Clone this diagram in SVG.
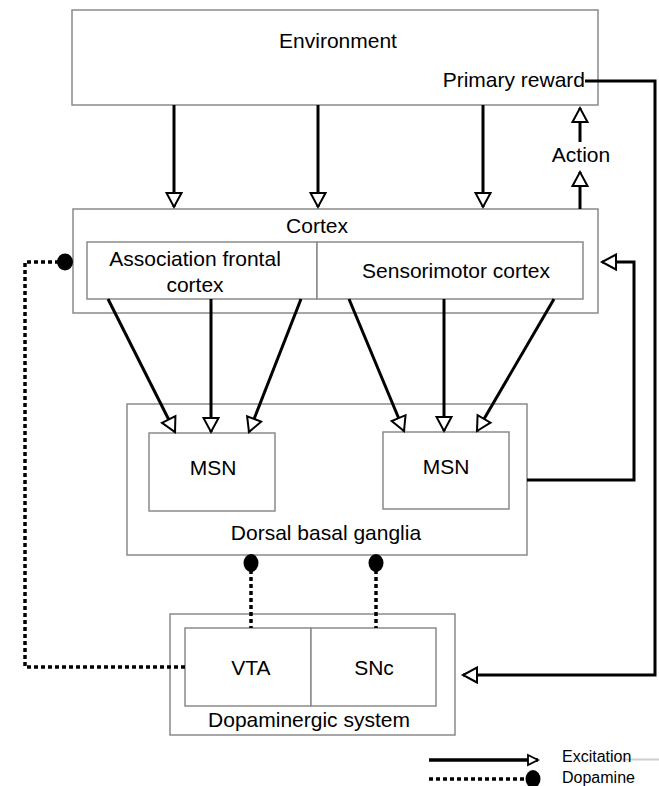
<svg xmlns="http://www.w3.org/2000/svg" width="659" height="786" viewBox="0 0 659 786">
<style>
.box{fill:#fff;stroke:#8a8a8a;stroke-width:1.5}
.t{font-family:"Liberation Sans",Arial,sans-serif;font-size:21px;fill:#000;text-anchor:middle}
.lg{font-family:"Liberation Sans",Arial,sans-serif;font-size:16px;fill:#000}
.ex{fill:none;stroke:#000;stroke-width:3;marker-end:url(#arr)}
.exn{fill:none;stroke:#000;stroke-width:3}
.da{fill:none;stroke:#000;stroke-width:3.5;stroke-dasharray:4 3}
</style>
<defs>
<marker id="arr" viewBox="-2 -2 19 19" refX="14" refY="7.5" markerWidth="19" markerHeight="19" markerUnits="userSpaceOnUse" orient="auto">
<path d="M0,0 L14,7.5 L0,15 Z" fill="#fff" stroke="#000" stroke-width="2"/>
</marker>
<marker id="arrs" viewBox="-2 -2 14 14" refX="10" refY="5" markerWidth="14" markerHeight="14" markerUnits="userSpaceOnUse" orient="auto">
<path d="M0,0 L10,5 L0,10 Z" fill="#fff" stroke="#000" stroke-width="1.8"/>
</marker>
</defs>
<rect width="659" height="786" fill="#fff"/>

<g id="environment">
<rect class="box" x="72" y="10" width="526" height="95"/>
<text class="t" x="338" y="48">Environment</text>
<text class="t" x="585" y="87" style="text-anchor:end">Primary reward</text>
</g>

<g id="cortex">
<rect class="box" x="73" y="209" width="525" height="104"/>
<text class="t" x="317" y="233">Cortex</text>
<rect class="box" x="87" y="242" width="230" height="57"/>
<rect class="box" x="317" y="242" width="266" height="57"/>
<text class="t" x="195" y="266">Association frontal</text>
<text class="t" x="195" y="292">cortex</text>
<text class="t" x="456" y="278">Sensorimotor cortex</text>
</g>

<g id="dorsal-basal-ganglia">
<rect class="box" x="127" y="404" width="400" height="151"/>
<rect class="box" x="149" y="433" width="126" height="78"/>
<text class="t" x="213" y="475">MSN</text>
<rect class="box" x="383" y="432" width="126" height="77"/>
<text class="t" x="446" y="474">MSN</text>
<text class="t" x="326" y="540">Dorsal basal ganglia</text>
</g>

<g id="dopaminergic-system">
<rect class="box" x="170" y="614" width="285" height="121"/>
<rect class="box" x="185" y="628" width="126" height="78"/>
<rect class="box" x="311" y="628" width="125" height="78"/>
<text class="t" x="251" y="675">VTA</text>
<text class="t" x="374" y="675">SNc</text>
<text class="t" x="309" y="727">Dopaminergic system</text>
</g>

<g id="connectors">
<!-- environment to cortex -->
<line class="ex" x1="174" y1="105" x2="174" y2="207"/>
<line class="ex" x1="318" y1="105" x2="318" y2="207"/>
<line class="ex" x1="483" y1="105" x2="483" y2="207"/>
<!-- action -->
<line class="ex" x1="580" y1="209" x2="580" y2="172"/>
<line class="ex" x1="580" y1="142" x2="580" y2="108"/>
<text class="t" x="581" y="162">Action</text>
<!-- cortex to MSN -->
<line class="ex" x1="108" y1="299" x2="175" y2="432"/>
<line class="ex" x1="211" y1="299" x2="211" y2="432"/>
<line class="ex" x1="301" y1="299" x2="249" y2="432"/>
<line class="ex" x1="349" y1="299" x2="404" y2="431"/>
<line class="ex" x1="444" y1="299" x2="444" y2="431"/>
<line class="ex" x1="554" y1="299" x2="477" y2="431"/>
<!-- MSN feedback to cortex -->
<polyline class="ex" points="527,480 634,480 634,262 602,262"/>
<!-- primary reward to dopaminergic -->
<polyline class="ex" points="585,81 655,81 655,675 463,675"/>
<!-- dopamine projections -->
<line class="da" x1="251" y1="570" x2="251" y2="628"/>
<ellipse cx="251" cy="563" rx="7.5" ry="9" fill="#000"/>
<line class="da" x1="376" y1="570" x2="376" y2="628"/>
<ellipse cx="376" cy="563" rx="7.5" ry="9" fill="#000"/>
<polyline class="da" points="185,667 25,667 25,262 58,262"/>
<ellipse cx="65" cy="262" rx="8" ry="8.5" fill="#000"/>
</g>

<g id="legend">
<line x1="429" y1="760" x2="538" y2="760" stroke="#000" stroke-width="3.5" marker-end="url(#arrs)"/>
<line x1="622" y1="759.5" x2="659" y2="759.5" stroke="#cfcfcf" stroke-width="2"/>
<text class="lg" x="562" y="762">Excitation</text>
<line class="da" x1="429" y1="779" x2="526" y2="779"/>
<ellipse cx="533" cy="779" rx="7.5" ry="9" fill="#000"/>
<text class="lg" x="562" y="783">Dopamine</text>
</g>
</svg>
